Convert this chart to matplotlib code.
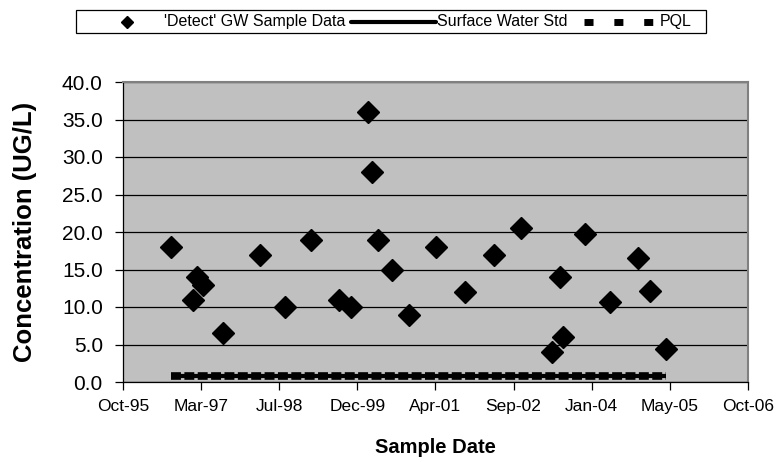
import matplotlib
matplotlib.use("Agg")
import matplotlib.pyplot as plt
import matplotlib.dates as mdates
from matplotlib.lines import Line2D
from matplotlib.patches import Rectangle
import pandas as pd

plt.rcParams['font.family'] = ['Liberation Sans', 'DejaVu Sans']

sample_dates = ["1996-08-28", "1997-01-16", "1997-02-11", "1997-03-21", "1997-07-31",
                "1998-03-23", "1998-08-30", "1999-02-12", "1999-08-12", "1999-10-26",
                "2000-02-14", "2000-03-11", "2000-04-14", "2000-07-17", "2000-10-31",
                "2001-04-22", "2001-10-25", "2002-04-28", "2002-10-18", "2003-05-07",
                "2003-06-25", "2003-07-16", "2003-12-02", "2004-05-10", "2004-11-07",
                "2005-01-21", "2005-05-03"]
detect_values = [18.0, 11.0, 14.0, 13.0, 6.5,
                 17.0, 10.0, 19.0, 11.0, 10.0,
                 36.0, 28.0, 19.0, 15.0, 9.0,
                 18.0, 12.0, 17.0, 20.5, 4.0,
                 14.0, 6.0, 19.7, 10.7, 16.6,
                 12.2, 4.4]
surface_water_std = [0.8] * len(sample_dates)
pql = [0.8] * len(sample_dates)

y_ticks = [0, 5, 10, 15, 20, 25, 30, 35, 40]
x_start = "1995-10-28"
x_end = "2006-10-10"
legend_labels = ["'Detect' GW Sample Data", "Surface Water Std", "PQL"]

W, H = 784, 462
dates = pd.to_datetime(sample_dates)
xticks = pd.date_range(x_start, periods=9, freq="500D")

fig = plt.figure(figsize=(W / 100, H / 100), dpi=100)
ax = fig.add_axes([123 / W, 1 - 382 / H, (748 - 123) / W, (382 - 82) / H])
ax.set_facecolor('#C0C0C0')

ax.plot(dates, surface_water_std, color='black', lw=3, solid_capstyle='butt', zorder=3)
ax.plot(dates, pql, color='black', lw=5.5, linestyle=(0, (1.3, 0.45)),
        dash_capstyle='butt', zorder=3)
ax.plot(dates, detect_values, linestyle='none', marker='D', markersize=11.5,
        color='black', zorder=4)

ax.set_ylim(0, 40)
ax.set_yticks(y_ticks)
ax.set_yticklabels([f"{v:.1f}" for v in y_ticks], fontsize=15)
ax.set_xlim(pd.Timestamp(x_start), pd.Timestamp(x_end))
ax.set_xticks(xticks)
ax.xaxis.set_major_formatter(mdates.DateFormatter('%b-%y'))
for lbl in ax.get_xticklabels():
    lbl.set_fontsize(12.5)

ax.grid(axis='y', color='black', lw=0.9)
ax.set_axisbelow(True)
ax.tick_params(axis='both', direction='out', length=5.5, width=0.9, color='black')
ax.tick_params(axis='y', pad=9)
ax.tick_params(axis='x', pad=7)
for s in ['top', 'right']:
    ax.spines[s].set_color('#808080')
    ax.spines[s].set_linewidth(1.5)
for s in ['left', 'bottom']:
    ax.spines[s].set_color('black')
    ax.spines[s].set_linewidth(0.9)

ax.set_ylabel('Concentration (UG/L)', fontsize=18.5, fontweight='bold')
ax.yaxis.set_label_coords((37 - 123) / 625, 0.5)
ax.set_xlabel('Sample Date', fontsize=14.5, fontweight='bold')
ax.xaxis.set_label_coords(0.5, (382 - 438) / 300)

# legend (drawn in figure pixel coordinates)
def fx(px):
    return px / W

def fy(py):
    return 1 - py / H

ly = 21.5
fs = 11.5
fig.add_artist(Rectangle((fx(76), fy(33)), fx(706) - fx(76), fy(10) - fy(33),
                         transform=fig.transFigure, facecolor='white',
                         edgecolor='black', lw=0.9))
fig.add_artist(Line2D([fx(127)], [fy(ly)], marker='D', markersize=6.5, color='black',
                      linestyle='none', transform=fig.transFigure))
fig.text(fx(164), fy(ly), legend_labels[0], fontsize=fs, va='center', ha='left')
fig.add_artist(Line2D([fx(351), fx(436)], [fy(ly), fy(ly)], color='black', lw=3,
                      solid_capstyle='round', transform=fig.transFigure))
fig.text(fx(437), fy(ly), legend_labels[1], fontsize=fs, va='center', ha='left')
fig.add_artist(Line2D([fx(584), fx(653)], [fy(ly), fy(ly)], color='black', lw=5,
                      linestyle=(0, (1.3, 3.0)), dash_capstyle='butt',
                      transform=fig.transFigure))
fig.text(fx(660), fy(ly), legend_labels[2], fontsize=fs, va='center', ha='left')

fig.savefig('out.png', dpi=100)
